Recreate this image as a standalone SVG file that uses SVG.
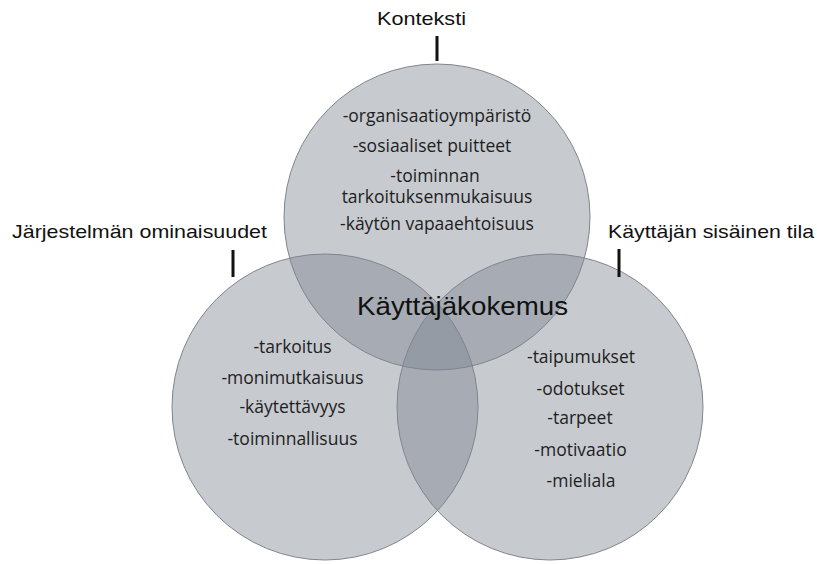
<svg xmlns="http://www.w3.org/2000/svg" width="817" height="564" viewBox="0 0 817 564">
<style>
.c{fill:#7e8390;fill-opacity:0.43;stroke:#80858e;stroke-width:1}
.lbl{font-family:"Liberation Sans",Arial,sans-serif;font-size:19px;fill:#111}
.in{font-family:"Open Sans","Noto Sans",sans-serif;font-size:17.5px;fill:#1e1e1e;text-anchor:middle}
.tick{stroke:#111;stroke-width:3}
</style>
<rect width="817" height="564" fill="#ffffff"/>
<g id="circles">
<g id="node-konteksti"><circle class="c" cx="437" cy="217" r="153"/></g>
<g id="node-jarjestelma"><circle class="c" cx="325" cy="407" r="153"/></g>
<g id="node-kayttaja"><circle class="c" cx="550" cy="407" r="153"/></g>
</g>
<g id="connectors">
<line class="tick" x1="437" y1="36" x2="437" y2="61"/>
<line class="tick" x1="233" y1="250" x2="233" y2="277"/>
<line class="tick" x1="619" y1="249" x2="619" y2="277"/>
</g>
<g id="labels">
<text class="lbl" x="377" y="25" textLength="89" lengthAdjust="spacingAndGlyphs">Konteksti</text>
<text class="lbl" x="12" y="238" textLength="255" lengthAdjust="spacingAndGlyphs">Järjestelmän ominaisuudet</text>
<text class="lbl" x="608" y="238" textLength="206" lengthAdjust="spacingAndGlyphs">Käyttäjän sisäinen tila</text>
</g>
<g id="node-center"><text x="357" y="315" textLength="211" lengthAdjust="spacingAndGlyphs" style="font-family:'Liberation Sans',Arial,sans-serif;font-size:26px;fill:#111">Käyttäjäkokemus</text></g>
<g id="text-top">
<text class="in" x="437" y="122">-organisaatioympäristö</text>
<text class="in" x="432" y="152">-sosiaaliset puitteet</text>
<text class="in" x="435" y="182">-toiminnan</text>
<text class="in" x="437" y="203">tarkoituksenmukaisuus</text>
<text class="in" x="437" y="230">-käytön vapaaehtoisuus</text>
</g>
<g id="text-left">
<text class="in" x="292.5" y="353">-tarkoitus</text>
<text class="in" x="292.5" y="384">-monimutkaisuus</text>
<text class="in" x="292.5" y="413">-käytettävyys</text>
<text class="in" x="292.5" y="445">-toiminnallisuus</text>
</g>
<g id="text-right">
<text class="in" x="581" y="363">-taipumukset</text>
<text class="in" x="580.5" y="395">-odotukset</text>
<text class="in" x="580" y="424">-tarpeet</text>
<text class="in" x="580.5" y="456">-motivaatio</text>
<text class="in" x="581" y="487">-mieliala</text>
</g>
</svg>
